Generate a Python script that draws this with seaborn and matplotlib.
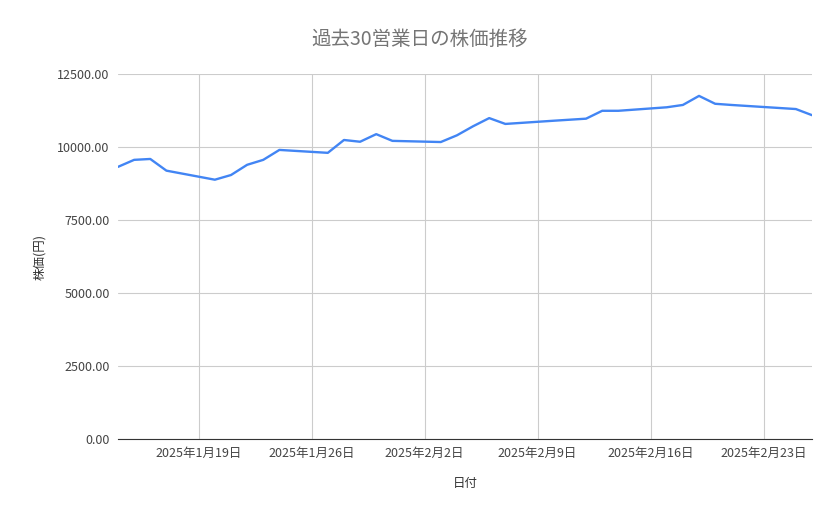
import pandas as pd
import numpy as np
import matplotlib
matplotlib.use('Agg')
import matplotlib.pyplot as plt
import matplotlib.dates as mdates
import matplotlib.ticker as mticker
import seaborn as sns

dates = ['2025-01-14', '2025-01-15', '2025-01-16', '2025-01-17', '2025-01-20',
         '2025-01-21', '2025-01-22', '2025-01-23', '2025-01-24', '2025-01-27',
         '2025-01-28', '2025-01-29', '2025-01-30', '2025-01-31', '2025-02-03',
         '2025-02-04', '2025-02-05', '2025-02-06', '2025-02-07', '2025-02-10',
         '2025-02-12', '2025-02-13', '2025-02-14', '2025-02-17', '2025-02-18',
         '2025-02-19', '2025-02-20', '2025-02-21', '2025-02-25', '2025-02-26']
prices = [9320, 9560, 9590, 9190, 8880, 9040, 9390, 9560, 9900, 9800,
          10240, 10180, 10440, 10210, 10170, 10400, 10710, 10990, 10790, 10900,
          10970, 11240, 11240, 11360, 11440, 11750, 11480, 11440, 11300, 11090]

df = pd.DataFrame({'日付': pd.to_datetime(dates), '株価': prices})

sns.set_style('white')
plt.rcParams['font.family'] = ['Noto Sans CJK JP', 'DejaVu Sans']

fig = plt.figure(figsize=(8.39, 5.19), dpi=100)
ax = fig.add_axes([118/839, 1-439/519, (812-118)/839, (439-74)/519])

sns.lineplot(data=df, x='日付', y='株価', color='#4285F4', linewidth=1.7, ax=ax)

ax.set_xlim(pd.Timestamp('2025-01-14'), pd.Timestamp('2025-02-26'))
ax.set_ylim(0, 12500)
ax.yaxis.set_major_locator(mticker.MultipleLocator(2500))
ax.yaxis.set_major_formatter(mticker.FuncFormatter(lambda v, p: f'{v:.2f}'))
ticks = pd.date_range('2025-01-19', '2025-02-23', freq='7D')
ax.set_xticks(ticks)
ax.set_xticklabels([f'{d.year}年{d.month}月{d.day}日' for d in ticks])

ax.grid(True, color='#cccccc', linewidth=0.8)
for s in ['top', 'right', 'left']:
    ax.spines[s].set_visible(False)
ax.spines['bottom'].set_color('#333333')
ax.tick_params(length=0, labelsize=9, colors='#444444', pad=6)

ax.set_xlabel('日付', fontsize=9, color='#333333', labelpad=12)
ax.set_ylabel('株価(円)', fontsize=9, color='#333333', labelpad=8)
fig.suptitle('過去30営業日の株価推移', x=0.5, y=0.945, fontsize=14, color='#757575')

fig.savefig('out.png', dpi=100)
